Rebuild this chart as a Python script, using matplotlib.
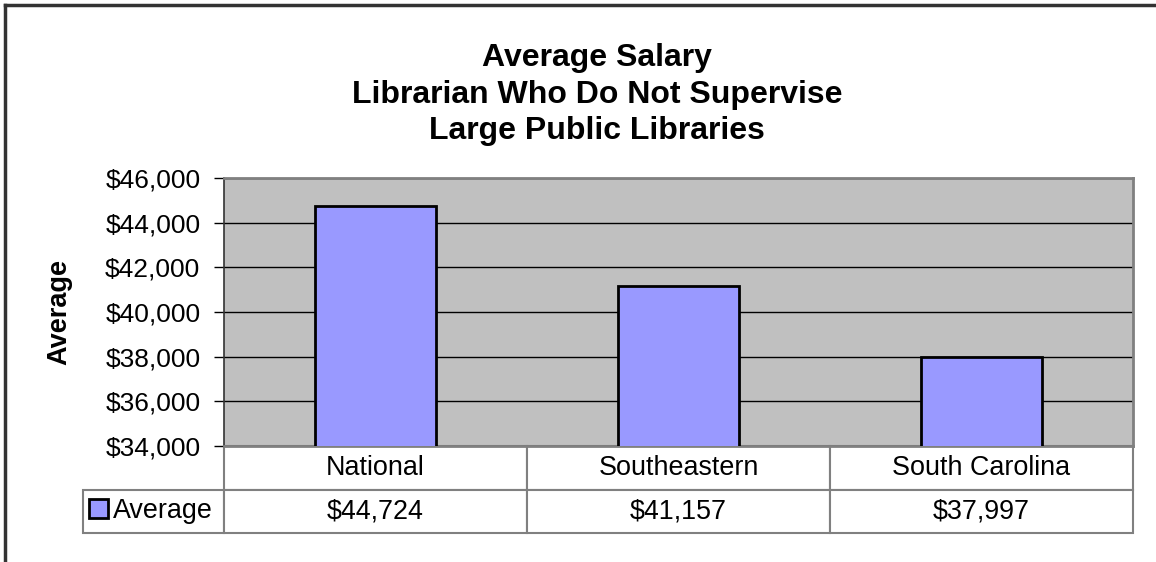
import matplotlib.pyplot as plt
from matplotlib.lines import Line2D
from matplotlib.ticker import FuncFormatter

plt.rcParams['font.family'] = ['Liberation Sans', 'DejaVu Sans']

# Data
categories = ['National', 'Southeastern', 'South Carolina']
averages = [44724, 41157, 37997]
series_name = 'Average'
title_lines = ['Average Salary', 'Librarian Who Do Not Supervise', 'Large Public Libraries']

bar_color = '#9999FF'
plot_bg = '#C0C0C0'

W, H = 1156, 562
fig = plt.figure(figsize=(W / 100, H / 100), dpi=100)

# axes placed to match the plot area in pixels
left, right, top, bottom = 224, 1133, 178, 446
ax = fig.add_axes([left / W, 1 - bottom / H, (right - left) / W, (bottom - top) / H])
ax.set_facecolor(plot_bg)

x = range(len(categories))
bars = ax.bar(x, averages, width=0.4, color=bar_color, edgecolor='black', linewidth=2, zorder=3)

ax.set_xlim(-0.5, len(categories) - 0.5)
ax.set_ylim(34000, 46000)
ax.set_yticks(range(34000, 46001, 2000))
ax.yaxis.set_major_formatter(FuncFormatter(lambda v, p: f'${v:,.0f}'))
ax.tick_params(axis='y', labelsize=19, length=7, width=1, pad=10, direction='out')
ax.set_xticks([])
ax.grid(axis='y', color='black', linewidth=1, zorder=1)
for side in ['top', 'right', 'bottom']:
    ax.spines[side].set_color('#808080')
    ax.spines[side].set_linewidth(2)
ax.spines['left'].set_color('#333333')
ax.spines['left'].set_linewidth(1.2)

ax.set_ylabel('Average', fontsize=19.5, fontweight='bold')
ax.yaxis.set_label_coords((72 - left) / (right - left), 0.5)

# data table under the plot (first column holds the legend key)
table_h = (533 - bottom) / (bottom - top)
label_w = (left - 83) / (right - left)
col_w = 1 / len(categories)
tbl = ax.table(cellText=[[''] + [f'${v:,}' for v in averages]],
               colLabels=[''] + categories,
               colWidths=[label_w] + [col_w] * len(categories),
               cellLoc='center',
               bbox=[-label_w, -table_h, 1 + label_w, table_h])
tbl.auto_set_font_size(False)
tbl.set_fontsize(19.4)
for (r, c), cell in tbl.get_celld().items():
    cell.set_edgecolor('#808080')
    cell.set_linewidth(1.5)
tbl[0, 0].visible_edges = 'open'

# legend key inside the first table cell
leg = ax.legend([bars[0]], [series_name], loc='center left',
                bbox_to_anchor=(-label_w + 6 / (right - left), -table_h * 0.75),
                frameon=False, fontsize=19.4, handlelength=0.7, handleheight=0.7,
                handletextpad=0.2, borderpad=0, borderaxespad=0)

# title
for i, line in enumerate(title_lines):
    fig.text(597 / W, 1 - (58 + i * 36.5) / H, line, ha='center', va='center',
             fontsize=23, fontweight='bold')

# chart border (top and left visible)
fig.add_artist(Line2D([5 / W, 5 / W], [0, 1 - 5 / H], color='#333333', linewidth=2.5))
fig.add_artist(Line2D([5 / W, 1], [1 - 5 / H, 1 - 5 / H], color='#333333', linewidth=2.5))

fig.savefig('out.png', dpi=100)
